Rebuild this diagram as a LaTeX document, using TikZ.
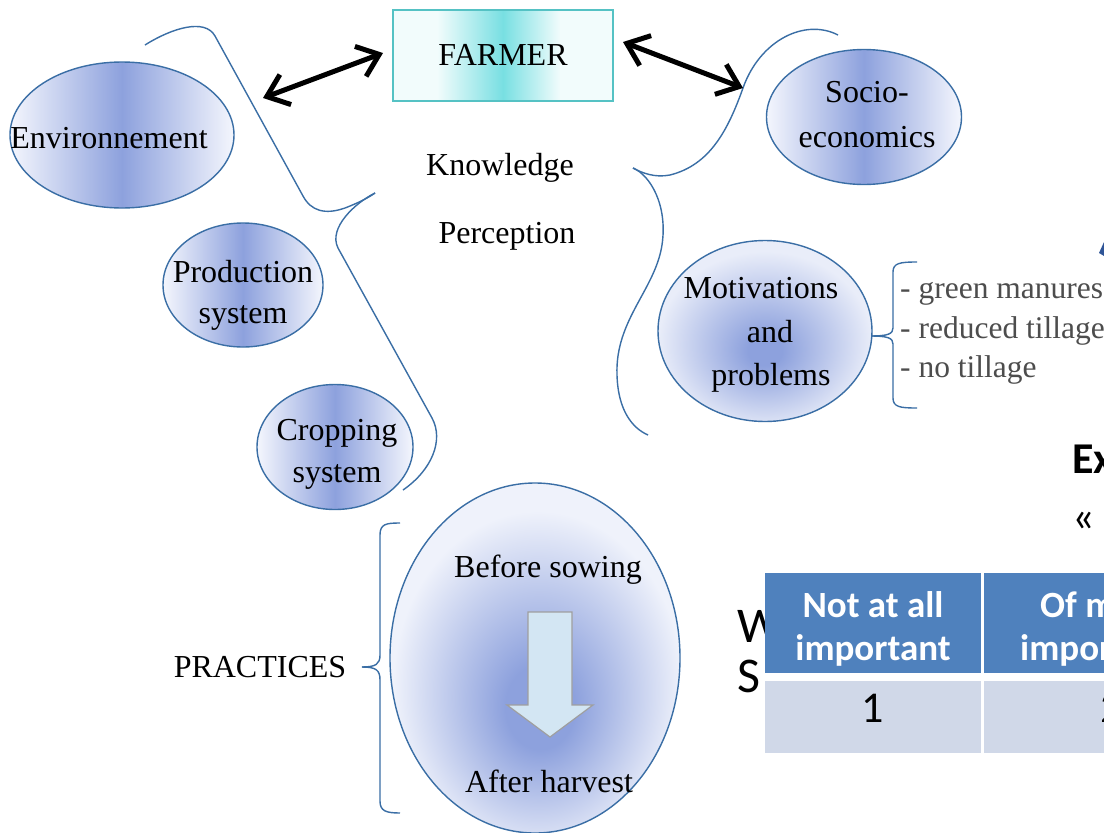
\documentclass[tikz,border=0pt]{standalone}
\usepackage{fontspec}
\setmainfont{Liberation Serif}
\newfontfamily\carlito{Carlito}
\usetikzlibrary{arrows.meta,shapes.geometric}
\definecolor{edge}{HTML}{3A6EA5}
\definecolor{edgedark}{HTML}{2F5597}
\definecolor{blu}{HTML}{8DA1DD}
\definecolor{pale}{HTML}{F4F6FD}
\definecolor{pale2}{HTML}{E9EDF9}
\definecolor{pale3}{HTML}{EFF2FB}
\definecolor{teal1}{HTML}{55C2C4}
\definecolor{cyanmid}{HTML}{78DFE2}
\definecolor{cyanedge}{HTML}{F2FCFC}
\definecolor{hdr}{HTML}{4F81BD}
\definecolor{rowc}{HTML}{D0D8E8}
\definecolor{listgray}{HTML}{4D4D4D}
\definecolor{arrfill}{HTML}{D3E6F3}
\pgfdeclarehorizontalshading{ellh}{100bp}{color(0bp)=(pale); color(25bp)=(pale); color(50bp)=(blu); color(75bp)=(pale); color(100bp)=(pale)}
\pgfdeclarehorizontalshading{farmh}{100bp}{color(0bp)=(cyanedge); color(35bp)=(cyanedge); color(50bp)=(cyanmid); color(63bp)=(cyanedge); color(100bp)=(cyanedge)}
\pgfdeclareradialshading{motrad}{\pgfpoint{0bp}{-6bp}}{color(0bp)=(blu); color(4bp)=(blu); color(25bp)=(pale2); color(50bp)=(pale2)}
\pgfdeclareradialshading{bigrad}{\pgfpoint{1bp}{-8bp}}{color(0bp)=(blu); color(6bp)=(blu); color(25bp)=(pale3); color(50bp)=(pale3)}
\begin{document}
\begin{tikzpicture}[x=1pt,y=-1pt,
  lbl/.style={font=\fontsize{32}{38}\selectfont, anchor=base, inner sep=0pt},
  listlbl/.style={font=\fontsize{31.5}{37}\selectfont, text=listgray, anchor=base west, inner sep=0pt},
  ell/.style={ellipse, draw=edge, line width=1.4pt, inner sep=0pt},
  curvy/.style={draw=edge, line width=1.4pt},
  dblarrow/.style={line width=5pt, arrows={Straight Barb[length=20pt,width=32pt]-Straight Barb[length=20pt,width=32pt]}},
  hdrcell/.style={rectangle, fill=hdr, inner sep=0pt},
  rowcell/.style={rectangle, fill=rowc, inner sep=0pt},
  hdrtxt/.style={font=\carlito\bfseries\fontsize{37}{44}\selectfont, text=white, anchor=base, inner sep=0pt},
  celltxt/.style={font=\carlito\fontsize{44}{50}\selectfont, anchor=base, inner sep=0pt},
  sanslbl/.style={font=\carlito\fontsize{50}{58}\selectfont, anchor=base west, inner sep=0pt}
]
\useasboundingbox (0,0) rectangle (1104,833);
\fill[white] (0,0) rectangle (1104,833);
\clip (0,0) rectangle (1104,833);

% brace-like curves
\draw[curvy] (145,45) .. controls (172,28) and (205,18) .. (215,36) -- (303,196)
  .. controls (311,211) and (325,215) .. (345,208) .. controls (358,203) and (368,198) .. (375,193);
\draw[curvy] (375,193) .. controls (355,203) and (328,228) .. (338,248) -- (432,418)
  .. controls (444,440) and (432,470) .. (403,490);
\draw[curvy] (838,35) .. controls (805,18) and (760,40) .. (743,88)
  .. controls (728,130) and (710,165) .. (670,175) .. controls (655,178) and (642,173) .. (633,168);
\draw[curvy] (633,168) .. controls (650,175) and (668,205) .. (662,245)
  .. controls (655,290) and (615,320) .. (617,375) .. controls (618,410) and (632,428) .. (648,435);
\draw[curvy] (400,523) .. controls (386,523) and (380,524) .. (380,535) -- (380,655)
  .. controls (380,664) and (376,667) .. (362,667);
\draw[curvy] (362,667) .. controls (376,667) and (380,670) .. (380,680) -- (380,801)
  .. controls (380,811) and (386,813) .. (400,813);
\draw[curvy] (917,262) .. controls (900,262) and (893,263) .. (893,272) -- (893,328)
  .. controls (893,334) and (888,336) .. (870,336);
\draw[curvy] (870,336) .. controls (888,336) and (893,338) .. (893,344) -- (893,398)
  .. controls (893,407) and (900,408) .. (917,408);

% farmer
\node[draw=teal1, line width=2pt, shading=farmh, minimum width=220pt, minimum height=91pt,
  inner sep=0pt, font=\fontsize{32}{38}\selectfont] (farmer) at (503,55) {FARMER};

% arrows
\coordinate (a1) at (263,98);
\coordinate (a2) at (383,53);
\coordinate (b1) at (623,42);
\coordinate (b2) at (743,88);
\draw[dblarrow] (a1) -- (a2);
\draw[dblarrow] (b1) -- (b2);

% ellipses
\node[ell, shading=ellh, minimum width=224pt, minimum height=146pt] (env) at (122,135) {};
\node[lbl] (envt) at (109,148) {Environnement};
\node[ell, shading=ellh, minimum width=195pt, minimum height=135pt] (soc) at (864,117) {};
\node[lbl] (soct1) at (867,102) {Socio-};
\node[lbl] (soct2) at (867,147) {economics};
\node[ell, shading=ellh, minimum width=160pt, minimum height=124pt] (prod) at (243,285) {};
\node[lbl] (prodt1) at (243,282) {Production};
\node[lbl] (prodt2) at (243,323) {system};
\node[ell, shading=ellh, minimum width=156pt, minimum height=125pt] (crop) at (335,447) {};
\node[lbl] (cropt1) at (337,440) {Cropping};
\node[lbl] (cropt2) at (337,482) {system};
\node[ell, shading=motrad, minimum width=214pt, minimum height=181pt] (mot) at (765,331) {};
\node[lbl] (mott1) at (761,298) {Motivations};
\node[lbl] (mott2) at (770,342) {and};
\node[lbl] (mott3) at (771,385) {problems};
\node[ell, shading=bigrad, minimum width=290pt, minimum height=350pt] (prac) at (535,658) {};

% central texts
\node[lbl] (know) at (500,175) {Knowledge};
\node[lbl] (perc) at (507,243) {Perception};
\node[lbl] (practices) at (260,677) {PRACTICES};
\node[lbl] (before) at (548,577) {Before sowing};
\node[lbl] (after) at (549,792) {After harvest};

% block arrow
\draw[fill=arrfill, draw=gray!75, line width=1.2pt] (528,612) -- (572,612) -- (572,705) -- (593,705)
  -- (550,737) -- (507,705) -- (528,705) -- cycle;

% list
\node[listlbl] (l1) at (900,298) {- green manures};
\node[listlbl] (l2) at (900,338) {- reduced tillage};
\node[listlbl] (l3) at (900,377) {- no tillage};

% fragment of another slide
\fill[edgedark] (1099,253) -- (1104,242) -- (1104,256) -- cycle;
\node[anchor=base west, inner sep=0pt, font=\carlito\bfseries\fontsize{44}{50}\selectfont] (ex) at (1072,473) {Ex};
\node[anchor=base west, inner sep=0pt, font=\carlito\fontsize{44}{50}\selectfont] (guil) at (1072,531) {«};
\node[sanslbl] (w) at (737,642) {W};
\node[sanslbl] (s) at (737,692) {S};

% table
\node[hdrcell, minimum width=216pt, minimum height=100pt, anchor=north west] (h1) at (765,573) {};
\node[hdrcell, minimum width=250pt, minimum height=100pt, anchor=north west] (h2) at (984,573) {};
\node[rowcell, minimum width=216pt, minimum height=72pt, anchor=north west] (r1) at (765,681) {};
\node[rowcell, minimum width=250pt, minimum height=72pt, anchor=north west] (r2) at (984,681) {};
\node[hdrtxt] (h1a) at (873,617) {Not at all};
\node[hdrtxt] (h1b) at (873,660) {important};
\node[hdrtxt, anchor=base west] (h2a) at (1040,617) {Of m};
\node[hdrtxt, anchor=base west] (h2b) at (1020,660) {impor};
\node[celltxt] (c1) at (873,722) {1};
\node[celltxt, anchor=base west] (c2) at (1100,722) {2};
\end{tikzpicture}
\end{document}
